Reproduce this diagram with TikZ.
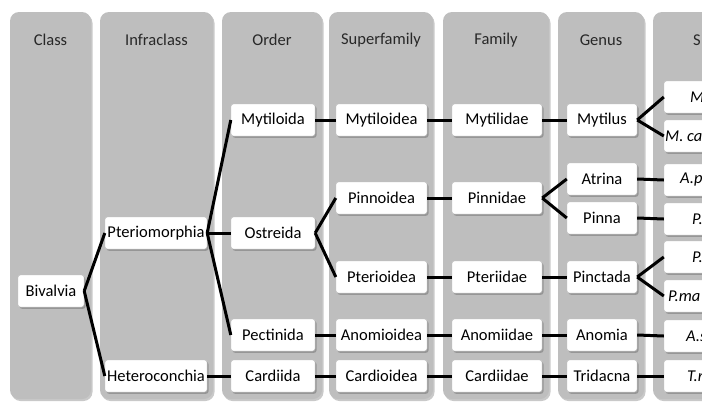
\documentclass[tikz,border=0pt]{standalone}
\usepackage{fontspec}
\setmainfont{Carlito}
\usetikzlibrary{shadows}
\definecolor{colgray}{RGB}{190,190,190}
\definecolor{hdr}{RGB}{40,40,40}
\begin{document}
\begin{tikzpicture}[x=1pt,y=-1pt,
  column/.style={fill=colgray,rounded corners=9pt,
    drop shadow={shadow xshift=1.5pt,shadow yshift=-2pt,opacity=0.35,fill=black!60}},
  hdrtext/.style={font=\fontsize{16.5}{18}\selectfont,text=hdr},
  taxon/.style={fill=white,draw=black!25,line width=0.4pt,rounded corners=2.5pt,
    minimum height=32pt,inner sep=1pt,font=\fontsize{16.5}{18}\selectfont,text=black,
    drop shadow={shadow xshift=1.5pt,shadow yshift=-1.8pt,opacity=0.45,fill=black!60}},
  c1/.style={taxon,minimum width=66pt},
  c2/.style={taxon,minimum width=102pt},
  c3/.style={taxon,minimum width=84pt},
  c4/.style={taxon,minimum width=91pt},
  c5/.style={taxon,minimum width=90pt},
  c6/.style={taxon,minimum width=70pt},
  c7/.style={taxon,minimum width=92pt},
  sp/.style={anchor=west,inner sep=0pt,font=\fontsize{16.5}{18}\selectfont\itshape,text=black},
  link/.style={line width=3pt,black}
]
\useasboundingbox (0,0) rectangle (702,405);
\clip (0,0) rectangle (702,405);
\fill[white] (0,0) rectangle (702,405);
% columns
\path[column] (10,12) rectangle (91,399);
\path[column] (100,12) rectangle (213,399);
\path[column] (222,12) rectangle (322,399);
\path[column] (329,12) rectangle (433,399);
\path[column] (443,12) rectangle (549,399);
\path[column] (558,12) rectangle (644,399);
\path[column] (653,12) rectangle (770,399);
% headers
\node[hdrtext] (h1) at (50.5,40) {Class};
\node[hdrtext] (h2) at (156.5,40) {Infraclass};
\node[hdrtext] (h3) at (272,40) {Order};
\node[hdrtext] (h4) at (381,40) {Superfamily};
\node[hdrtext] (h5) at (496,40) {Family};
\node[hdrtext] (h6) at (601,40) {Genus};
\node[hdrtext,anchor=west,inner sep=0pt] (h7) at (693,40) {S};
% class
\node[c1] (biv) at (51,291) {Bivalvia};
% infraclass
\node[c2] (pte) at (156,233) {Pteriomorphia};
\node[c2] (het) at (156,376) {Heteroconchia};
% order
\node[c3] (myt) at (273,120) {Mytiloida};
\node[c3] (ost) at (273,233) {Ostreida};
\node[c3] (pec) at (273,335) {Pectinida};
\node[c3] (car) at (273,376) {Cardiida};
% superfamily
\node[c4] (mytd) at (381.5,120) {Mytiloidea};
\node[c4] (pind) at (381.5,198) {Pinnoidea};
\node[c4] (pted) at (381.5,277) {Pterioidea};
\node[c4] (anod) at (381.5,335) {Anomioidea};
\node[c4] (card) at (381.5,376) {Cardioidea};
% family
\node[c5] (mytf) at (497,120) {Mytilidae};
\node[c5] (pinf) at (497,198) {Pinnidae};
\node[c5] (ptef) at (497,277) {Pteriidae};
\node[c5] (anof) at (497,335) {Anomiidae};
\node[c5] (carf) at (497,376) {Cardiidae};
% genus
\node[c6] (mytg) at (602,120) {Mytilus};
\node[c6] (atrg) at (602,179) {Atrina};
\node[c6] (ping) at (602,218) {Pinna};
\node[c6] (pctg) at (602,277) {Pinctada};
\node[c6] (anog) at (602,335) {Anomia};
\node[c6] (trig) at (602,376) {Tridacna};
% species boxes
\node[c7] (s1) at (710,97) {};
\node[c7] (s2) at (710,136) {};
\node[c7] (s3) at (710,180) {};
\node[c7] (s4) at (710,219) {};
\node[c7] (s5) at (710,257) {};
\node[c7] (s6) at (710,296) {};
\node[c7] (s7) at (710,336) {};
\node[c7] (s8) at (710,376) {};
\node[sp] (t1) at (690,97) {M};
\node[sp] (t2) at (665,136) {M. ca};
\node[sp] (t3) at (680,180) {A.p};
\node[sp] (t4) at (692,219) {P.};
\node[sp] (t5) at (692,257) {P.};
\node[sp] (t6) at (668,296) {P.ma};
\node[sp] (t7) at (686,336) {A.s};
\node[sp] (t8) at (687,376) {T.r};
% connectors
\draw[link] (biv.east) -- (pte.west);
\draw[link] (biv.east) -- (het.west);
\draw[link] (pte.east) -- (myt.west);
\draw[link] (pte.east) -- (ost.west);
\draw[link] (pte.east) -- (pec.west);
\draw[link] (het.east) -- (car.west);
\draw[link] (myt.east) -- (mytd.west);
\draw[link] (ost.east) -- (pind.west);
\draw[link] (ost.east) -- (pted.west);
\draw[link] (pec.east) -- (anod.west);
\draw[link] (car.east) -- (card.west);
\draw[link] (mytd.east) -- (mytf.west);
\draw[link] (pind.east) -- (pinf.west);
\draw[link] (pted.east) -- (ptef.west);
\draw[link] (anod.east) -- (anof.west);
\draw[link] (card.east) -- (carf.west);
\draw[link] (mytf.east) -- (mytg.west);
\draw[link] (pinf.east) -- (atrg.west);
\draw[link] (pinf.east) -- (ping.west);
\draw[link] (ptef.east) -- (pctg.west);
\draw[link] (anof.east) -- (anog.west);
\draw[link] (carf.east) -- (trig.west);
\draw[link] (mytg.east) -- (s1.west);
\draw[link] (mytg.east) -- (s2.west);
\draw[link] (atrg.east) -- (s3.west);
\draw[link] (ping.east) -- (s4.west);
\draw[link] (pctg.east) -- (s5.west);
\draw[link] (pctg.east) -- (s6.west);
\draw[link] (anog.east) -- (s7.west);
\draw[link] (trig.east) -- (s8.west);
\end{tikzpicture}
\end{document}
